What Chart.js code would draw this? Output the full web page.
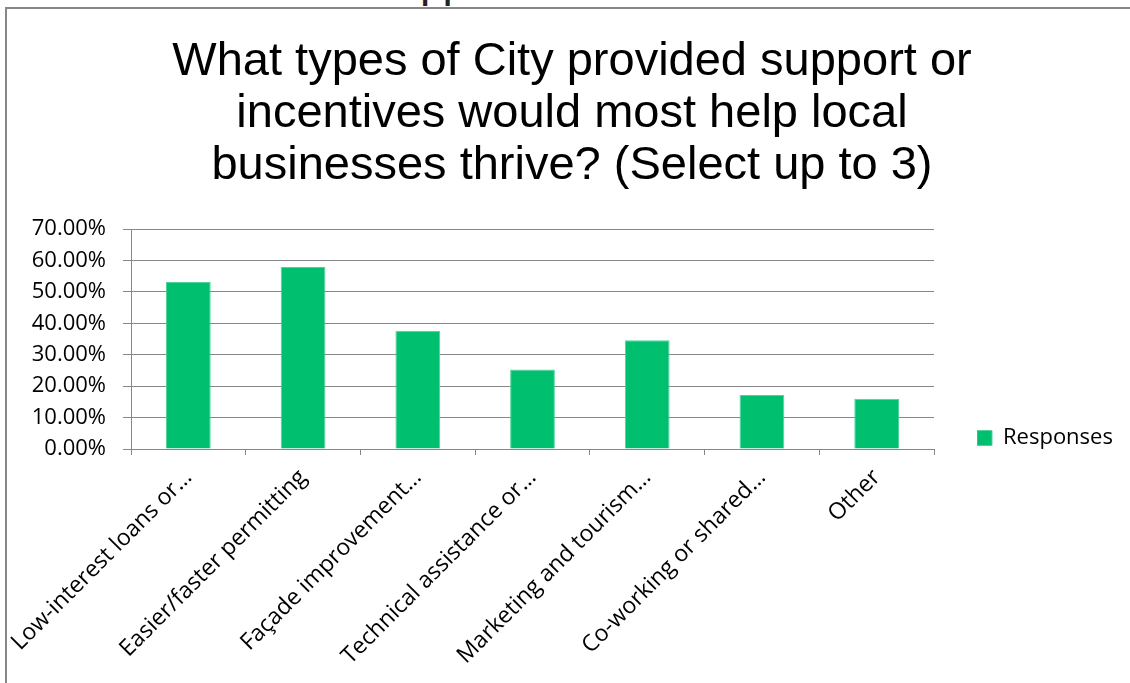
<!DOCTYPE html>
<html>
<head>
<meta charset="utf-8">
<script src="https://cdn.jsdelivr.net/npm/chart.js@4.4.0/dist/chart.umd.min.js"></script>
<style>
  html, body { margin: 0; padding: 0; background: #fff; overflow: hidden; }
  #wrap { position: relative; width: 1130px; height: 683px; overflow: hidden; }
  #frame { position: absolute; left: 5px; top: 7px; width: 1200px; height: 800px; border: 2px solid #878787; }
  #prev { position: absolute; left: 420px; top: -43px; font: 46px/46px "Liberation Sans", Arial, sans-serif; color: #222; letter-spacing: -3px; }
  canvas { position: absolute; left: 0; top: 0; }
</style>
</head>
<body>
<div id="wrap">
  <div id="prev">pp</div>
  <div id="frame"></div>
  <canvas id="myChart" width="1130" height="683"></canvas>
</div>
<script>
const titleLines = [
    'What types of City provided support or',
    'incentives would most help local',
    'businesses thrive? (Select up to 3)',
];
const categories = [
    'Low-interest loans or…',
    'Easier/faster permitting',
    'Façade improvement…',
    'Technical assistance or…',
    'Marketing and tourism…',
    'Co-working or shared…',
    'Other',
];
const responses = [53.1, 57.9, 37.6, 25.3, 34.6, 17.2, 16.0];
const yMax = 70;
const yStep = 10;

const gridGrey = '#878787';
const barGreen = '#00BF6F';

// legend width decides where the plot ends on the right
const legendSize = 22;
const mctx = document.createElement('canvas').getContext('2d');
mctx.font = legendSize + 'px "Open Sans"';
const legendTextW = mctx.measureText('Responses').width;
const legendGap = 43; // empty band between plot and legend square
const legendW = 15 + legendSize / 2 + legendTextW + 10;
const padR = Math.max(0, 1130 - 934 - legendGap - legendW);
const padL = 14 + padR;

const ctx = document.getElementById('myChart').getContext('2d');
const data = {
    labels: categories,
    datasets: [
        {
            label: 'Responses',
            data: responses,
            backgroundColor: barGreen,
            borderColor: '#4fd39a',
            borderWidth: 1,
            barPercentage: 0.39,
            categoryPercentage: 1,
        },
    ],
};

const config = {
    type: 'bar',
    data: data,
    options: {
        responsive: false,
        animation: false,
        layout: {
            padding: { left: padL, right: padR, top: 0, bottom: 0 },
        },
        plugins: {
            title: {
                display: true,
                text: titleLines,
                color: '#000',
                font: { family: '"Liberation Sans", Arial, sans-serif', size: 47, weight: 'normal', lineHeight: 52 / 47 },
                padding: { top: 36, bottom: 37 },
            },
            legend: {
                position: 'right',
                align: 'end',
                fullSize: false,
                labels: {
                    boxWidth: 15,
                    boxHeight: 15,
                    padding: 0,
                    color: '#000',
                    font: { family: '"Open Sans"', size: legendSize },
                },
            },
            tooltip: { enabled: false },
        },
        scales: {
            x: {
                grid: { display: true, drawOnChartArea: false, drawTicks: true, tickLength: 6, color: gridGrey, offset: true },
                border: { color: gridGrey },
                ticks: {
                    minRotation: 45,
                    maxRotation: 45,
                    autoSkip: false,
                    padding: 9,
                    color: '#000',
                    font: { family: '"Open Sans"', size: 23 },
                },
                afterFit(scale) {
                    scale.height = 683 - 449;
                    scale.paddingLeft = 0;
                    scale.paddingRight = 0;
                },
            },
            y: {
                min: 0,
                max: yMax,
                ticks: {
                    stepSize: yStep,
                    padding: 17,
                    color: '#000',
                    font: { family: '"Open Sans"', size: 22 },
                    callback: v => v.toFixed(2) + '%',
                },
                grid: { color: gridGrey, tickLength: 8 },
                border: { color: gridGrey },
                afterFit(scale) {
                    scale.width = 131 - padL;
                },
            },
            // empty spacer between plot and legend
            gap: {
                type: 'linear',
                position: 'right',
                grid: { display: false },
                border: { display: false },
                ticks: { display: false },
                afterFit(scale) {
                    scale.width = legendGap;
                },
            },
        },
    },
};
Chart.defaults.color = '#000';
const responsesChart = new Chart(ctx, config);
</script>
</body>
</html>
